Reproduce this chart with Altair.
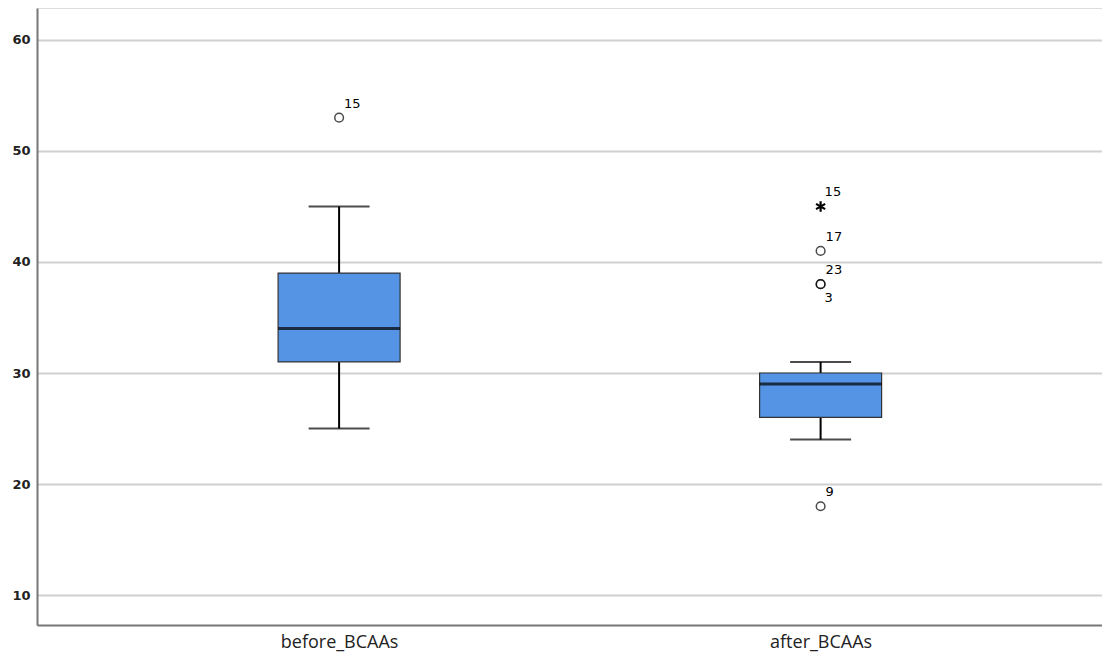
import altair as alt
import pandas as pd

groups = ["before_BCAAs", "after_BCAAs"]
whisker_low = [25, 24]
q1 = [31, 26]
median = [34, 29]
q3 = [39, 30]
whisker_high = [45, 31]

out_group = ["before_BCAAs", "after_BCAAs", "after_BCAAs", "after_BCAAs", "after_BCAAs"]
out_value = [53, 41, 38, 38, 18]
out_id_above = ["15", "17", "23", "", "9"]
out_id_below = ["", "", "", "3", ""]

ext_group = ["after_BCAAs"]
ext_value = [45]
ext_id = ["15"]

gidx = {g: i for i, g in enumerate(groups)}
box_df = pd.DataFrame({"group": groups, "lo": whisker_low, "q1": q1, "med": median,
                       "q3": q3, "hi": whisker_high})
box_df["gi"] = box_df["group"].map(gidx)
out_df = pd.DataFrame({"group": out_group, "value": out_value,
                       "above": out_id_above, "below": out_id_below})
out_df["gi"] = out_df["group"].map(gidx)
ext_df = pd.DataFrame({"group": ext_group, "value": ext_value, "id": ext_id})
ext_df["gi"] = ext_df["group"].map(gidx)

label_expr = " : ".join(f"datum.value == {i} ? '{g}'" for i, g in enumerate(groups)) + " : ''"

xs = alt.X("gi:Q", title=None,
           scale=alt.Scale(domain=[-0.617, 1.574], nice=False, zero=False),
           axis=alt.Axis(values=list(range(len(groups))), labelExpr=label_expr,
                         labelAngle=0, labelFont="Open Sans", labelFontSize=18,
                         labelColor="#222", labelPadding=8, ticks=False,
                         domainColor="#777", domainWidth=2, grid=False))
ys = alt.Y("lo:Q", title=None,
           scale=alt.Scale(domain=[7.3, 62.88], nice=False, zero=False),
           axis=alt.Axis(values=[10, 20, 30, 40, 50, 60], labelFont="DejaVu Sans",
                         labelFontSize=13, labelFontWeight="bold", labelColor="#222",
                         ticks=False, labelPadding=7, domainColor="#777", domainWidth=2,
                         gridColor="#d0d0d0", gridWidth=2))

X = alt.X("gi:Q")
base = alt.Chart(box_df)
whisk = base.mark_rule(color="black", strokeWidth=2).encode(x=xs, y=ys, y2="hi:Q")
box = base.mark_bar(size=122, color="#5593e4", stroke="#333", strokeWidth=1.2).encode(
    x=X, y="q1:Q", y2="q3:Q")
med = base.mark_tick(size=122, thickness=3, color="black", orient="horizontal").encode(
    x=X, y="med:Q")
cap_lo = base.mark_tick(size=61, thickness=2, color="black", orient="horizontal").encode(
    x=X, y="lo:Q")
cap_hi = base.mark_tick(size=61, thickness=2, color="black", orient="horizontal").encode(
    x=X, y="hi:Q")

outs = alt.Chart(out_df)
pts = outs.mark_point(shape="circle", filled=False, color="black", size=75,
                      strokeWidth=1.5).encode(x=X, y="value:Q")
lab_a = outs.mark_text(align="left", dx=5, dy=-14, font="DejaVu Sans", fontSize=13,
                       color="black").encode(x=X, y="value:Q", text="above:N")
lab_b = outs.mark_text(align="left", dx=4, dy=14, font="DejaVu Sans", fontSize=13,
                       color="black").encode(x=X, y="value:Q", text="below:N")

exts = alt.Chart(ext_df)
star = exts.mark_point(shape="M0,-1L0,1M-0.87,-0.5L0.87,0.5M-0.87,0.5L0.87,-0.5",
                       filled=False, color="black", size=110, strokeWidth=2.2,
                       opacity=1).encode(x=X, y="value:Q")
star_lab = exts.mark_text(align="left", dx=4, dy=-14, font="DejaVu Sans", fontSize=13,
                          color="black").encode(x=X, y="value:Q", text="id:N")

chart = alt.layer(whisk, box, med, cap_lo, cap_hi, pts, lab_a, lab_b, star, star_lab).properties(
    width=1065, height=617,
    autosize=alt.AutoSizeParams(type="none"),
    padding={"left": 29, "top": 0, "right": 0, "bottom": 30},
).configure_view(stroke=None).configure(background="white")

chart.save("out.html", embed_options={"renderer": "svg", "actions": False})
